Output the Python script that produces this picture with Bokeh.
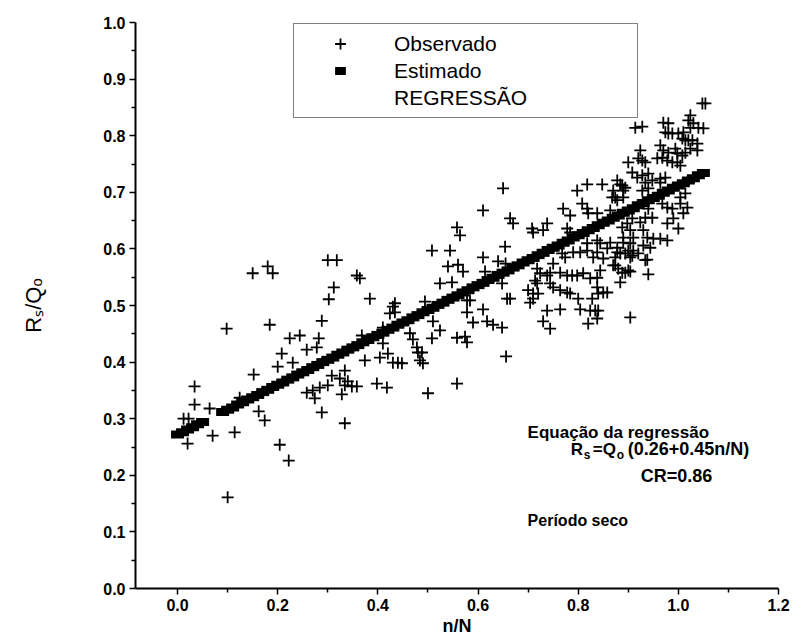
import math
from bokeh.plotting import figure
from bokeh.models import (FixedTicker, PrintfTickFormatter, Label, Legend,
                          LegendItem, Range1d)
from bokeh.embed import file_html
from bokeh.resources import INLINE

# ---------------- data ----------------
x_ticks = [0.0, 0.2, 0.4, 0.6, 0.8, 1.0, 1.2]
x_minor = [0.1, 0.3, 0.5, 0.7, 0.9, 1.1]
y_ticks = [0.0, 0.1, 0.2, 0.3, 0.4, 0.5, 0.6, 0.7, 0.8, 0.9, 1.0]
y_minor = [0.05, 0.15, 0.25, 0.35, 0.45, 0.55, 0.65, 0.75, 0.85, 0.95]

obs_x = [
    0.15, 0.18, 0.19, 0.30, 0.318, 0.312, 0.302, 0.098, 0.184, 0.288,
    0.224, 0.244, 0.282, 0.258, 0.278, 0.208, 0.23, 0.20, 0.152, 0.308,
    0.034, 0.258, 0.27, 0.284, 0.30, 0.274, 0.124, 0.034, 0.064, 0.022,
    0.012, 0.162, 0.174, 0.288, 0.114, 0.07, 0.02, 0.204, 0.222, 0.10,
    # middle
    0.508, 0.544, 0.61, 0.358, 0.364, 0.54, 0.56, 0.57, 0.614, 0.384,
    0.524, 0.548, 0.434, 0.43, 0.424, 0.434, 0.494, 0.578, 0.584, 0.61,
    0.578, 0.648, 0.658, 0.51, 0.524, 0.59, 0.618, 0.63, 0.648, 0.41,
    0.368, 0.464, 0.47, 0.478, 0.48, 0.488, 0.484, 0.49, 0.508, 0.558,
    0.574, 0.578, 0.41, 0.656, 0.42, 0.404, 0.374, 0.43, 0.44, 0.448,
    0.334, 0.324, 0.34, 0.334, 0.348, 0.358, 0.398, 0.418, 0.558, 0.50,
    0.328, 0.334, 0.558, 0.564, 0.61, 0.64, 0.655,
    # right-middle
    0.65, 0.798, 0.818, 0.848, 0.884, 0.894, 0.874, 0.90, 0.664, 0.67,
    0.708, 0.71, 0.738, 0.73, 0.77, 0.784, 0.808, 0.818, 0.82, 0.838,
    0.778, 0.784, 0.654, 0.818, 0.838, 0.844, 0.858, 0.79, 0.804, 0.818,
    0.768, 0.774, 0.838, 0.85, 0.83, 0.864, 0.878, 0.89, 0.90, 0.75,
    0.718, 0.724, 0.738, 0.744, 0.764, 0.778, 0.788, 0.798, 0.81, 0.844,
    0.838, 0.824, 0.874, 0.88, 0.888, 0.90, 0.714, 0.718, 0.744, 0.75,
    0.764, 0.778, 0.784, 0.80, 0.828, 0.838, 0.84, 0.85, 0.858, 0.70,
    0.71, 0.71, 0.704, 0.72, 0.664, 0.738, 0.764, 0.804, 0.824, 0.834,
    0.84, 0.73, 0.744, 0.838, 0.82, 0.904,
    # upper right
    1.048, 1.054, 1.024, 1.02, 1.03, 1.04, 1.024, 0.97, 0.98, 0.974,
    0.98, 0.988, 0.914, 0.928, 1.0, 1.008, 1.014, 1.02, 1.028, 1.038,
    1.038, 0.964, 0.97, 0.98, 0.994, 0.998, 1.008, 1.014, 1.024, 0.924,
    0.92, 0.928, 0.934, 0.958, 0.968, 0.978, 0.988, 0.998, 1.004, 0.908,
    0.918, 0.928, 0.94, 0.934, 0.948, 0.964, 0.974, 0.964, 0.888, 0.89,
    0.878, 0.89, 0.928, 0.94, 1.014, 1.004, 0.968, 0.978, 0.988, 0.99,
    1.0, 0.978, 0.94, 0.934, 0.924, 0.948, 0.908, 0.898, 0.888, 0.904,
    0.89, 0.91, 0.93, 0.938, 0.95, 0.964, 0.978, 0.944, 0.93, 0.904,
    0.91, 0.904, 0.884, 0.874, 0.868, 0.87, 0.878, 0.864, 0.878, 0.894,
    0.908, 0.92, 0.934, 0.938, 0.87, 0.894, 0.904, 0.884, 0.94, 1.01,
    1.018, 1.004, 1.01, 1.05,
]
obs_y = [
    0.557, 0.569, 0.557, 0.58, 0.58, 0.532, 0.511, 0.459, 0.466, 0.473,
    0.442, 0.447, 0.442, 0.422, 0.426, 0.415, 0.399, 0.392, 0.378, 0.376,
    0.357, 0.346, 0.35, 0.355, 0.359, 0.336, 0.337, 0.325, 0.318, 0.30,
    0.30, 0.313, 0.297, 0.311, 0.276, 0.27, 0.256, 0.254, 0.226, 0.161,
    # middle
    0.597, 0.597, 0.585, 0.553, 0.548, 0.569, 0.572, 0.56, 0.56, 0.512,
    0.539, 0.541, 0.504, 0.498, 0.486, 0.488, 0.507, 0.509, 0.509, 0.493,
    0.488, 0.539, 0.512, 0.472, 0.456, 0.47, 0.472, 0.466, 0.461, 0.461,
    0.447, 0.451, 0.44, 0.426, 0.417, 0.417, 0.403, 0.398, 0.442, 0.443,
    0.445, 0.435, 0.433, 0.41, 0.415, 0.408, 0.403, 0.399, 0.399, 0.398,
    0.385, 0.371, 0.366, 0.359, 0.357, 0.357, 0.362, 0.355, 0.362, 0.345,
    0.343, 0.292, 0.638, 0.624, 0.668, 0.578, 0.574,
    # right-middle
    0.707, 0.703, 0.714, 0.714, 0.714, 0.708, 0.691, 0.753, 0.654, 0.645,
    0.636, 0.629, 0.645, 0.633, 0.671, 0.659, 0.68, 0.671, 0.663, 0.663,
    0.636, 0.629, 0.604, 0.61, 0.615, 0.61, 0.601, 0.594, 0.594, 0.597,
    0.592, 0.585, 0.594, 0.583, 0.585, 0.611, 0.602, 0.611, 0.597, 0.574,
    0.565, 0.557, 0.553, 0.558, 0.558, 0.553, 0.553, 0.553, 0.557, 0.562,
    0.549, 0.548, 0.571, 0.565, 0.558, 0.562, 0.544, 0.539, 0.539, 0.532,
    0.527, 0.523, 0.521, 0.512, 0.512, 0.532, 0.521, 0.523, 0.523, 0.527,
    0.521, 0.512, 0.505, 0.521, 0.512, 0.491, 0.493, 0.493, 0.491, 0.491,
    0.491, 0.472, 0.459, 0.477, 0.468, 0.479,
    # upper right
    0.857, 0.857, 0.836, 0.827, 0.822, 0.814, 0.814, 0.823, 0.822, 0.806,
    0.804, 0.804, 0.814, 0.816, 0.804, 0.795, 0.792, 0.792, 0.792, 0.786,
    0.774, 0.783, 0.774, 0.77, 0.777, 0.769, 0.765, 0.77, 0.777, 0.774,
    0.76, 0.756, 0.753, 0.76, 0.761, 0.756, 0.753, 0.753, 0.747, 0.735,
    0.726, 0.73, 0.733, 0.717, 0.721, 0.724, 0.726, 0.717, 0.712, 0.703,
    0.686, 0.691, 0.703, 0.707, 0.698, 0.691, 0.68, 0.673, 0.671, 0.654,
    0.636, 0.645, 0.671, 0.655, 0.647, 0.655, 0.654, 0.645, 0.638, 0.633,
    0.62, 0.62, 0.633, 0.62, 0.618, 0.618, 0.615, 0.602, 0.606, 0.61,
    0.597, 0.585, 0.592, 0.585, 0.691, 0.703, 0.721, 0.668, 0.594, 0.592,
    0.588, 0.592, 0.58, 0.581, 0.571, 0.558, 0.56, 0.541, 0.555, 0.663,
    0.673, 0.68, 0.806, 0.813,
]

est_x = [
    0.00, 0.01, 0.02, 0.03, 0.04, 0.05,
    0.09, 0.10, 0.11, 0.12, 0.13, 0.14, 0.15, 0.16, 0.17, 0.18, 0.19,
    0.20, 0.21, 0.22, 0.23, 0.24, 0.25, 0.26, 0.27, 0.28, 0.29,
    0.30, 0.31, 0.32, 0.33, 0.34, 0.35, 0.36, 0.37, 0.38, 0.39,
    0.40, 0.41, 0.42, 0.43, 0.44, 0.45, 0.46, 0.47, 0.48, 0.49,
    0.50, 0.51, 0.52, 0.53, 0.54, 0.55, 0.56, 0.57, 0.58, 0.59,
    0.60, 0.61, 0.62, 0.63, 0.64, 0.65, 0.66, 0.67, 0.68, 0.69,
    0.70, 0.71, 0.72, 0.73, 0.74, 0.75, 0.76, 0.77, 0.78, 0.79,
    0.80, 0.81, 0.82, 0.83, 0.84, 0.85, 0.86, 0.87, 0.88, 0.89,
    0.90, 0.91, 0.92, 0.93, 0.94, 0.95, 0.96, 0.97, 0.98, 0.99,
    1.00, 1.01, 1.02, 1.03, 1.04, 1.05,
]
est_y = [
    0.272, 0.276, 0.281, 0.285, 0.290, 0.294,
    0.312, 0.316, 0.320, 0.325, 0.329, 0.334, 0.338, 0.342, 0.347, 0.351, 0.356,
    0.360, 0.364, 0.369, 0.373, 0.378, 0.382, 0.386, 0.391, 0.395, 0.400,
    0.404, 0.408, 0.413, 0.417, 0.422, 0.426, 0.430, 0.435, 0.439, 0.444,
    0.448, 0.452, 0.457, 0.461, 0.466, 0.470, 0.474, 0.479, 0.483, 0.488,
    0.492, 0.496, 0.501, 0.505, 0.510, 0.514, 0.518, 0.523, 0.527, 0.532,
    0.536, 0.540, 0.545, 0.549, 0.554, 0.558, 0.562, 0.567, 0.571, 0.576,
    0.580, 0.584, 0.589, 0.593, 0.598, 0.602, 0.606, 0.611, 0.615, 0.620,
    0.624, 0.628, 0.633, 0.637, 0.642, 0.646, 0.650, 0.655, 0.659, 0.664,
    0.668, 0.672, 0.677, 0.681, 0.686, 0.690, 0.694, 0.699, 0.703, 0.708,
    0.712, 0.716, 0.721, 0.725, 0.730, 0.734,
]

# ---------------- figure ----------------
FONT = "Liberation Sans"

p = figure(width=800, height=640, output_backend="svg", toolbar_location=None,
           x_range=Range1d(-0.084, 1.2), y_range=Range1d(0.0, 1.0),
           min_border_left=135, min_border_right=22, min_border_top=22,
           min_border_bottom=52)
p.outline_line_color = None
p.grid.visible = False
p.background_fill_color = "white"

p.xaxis.ticker = FixedTicker(ticks=x_ticks, minor_ticks=x_minor)
p.yaxis.ticker = FixedTicker(ticks=y_ticks, minor_ticks=y_minor)
for ax in (p.xaxis[0], p.yaxis[0]):
    ax.formatter = PrintfTickFormatter(format="%.1f")
    ax.axis_line_color = "black"
    ax.axis_line_width = 2
    ax.major_tick_in = 0
    ax.major_tick_out = 6
    ax.minor_tick_in = 0
    ax.minor_tick_out = 4
    ax.major_tick_line_color = "black"
    ax.minor_tick_line_color = "black"
    ax.major_tick_line_width = 1.5
    ax.minor_tick_line_width = 1.5
    ax.major_label_text_font = FONT
    ax.major_label_text_font_size = "16px"
    ax.major_label_text_font_style = "bold"
    ax.major_label_text_color = "black"
    ax.major_label_standoff = 4
    ax.axis_label_text_color = "black"
    ax.axis_label_text_font = FONT

p.xaxis.axis_label = "n/N"
p.xaxis.axis_label_text_font_size = "18px"
p.xaxis.axis_label_text_font_style = "bold"
p.xaxis.axis_label_standoff = 2

p.yaxis.axis_label = "R\u209b/Q\u2092"
p.yaxis.axis_label_text_font_size = "22px"
p.yaxis.axis_label_text_font_style = "normal"
p.yaxis.axis_label_standoff = 54

r_obs = p.scatter(obs_x, obs_y, marker="cross", size=12,
                  line_color="black", line_width=1.8)
r_est = p.scatter(est_x, est_y, marker="dash", size=13,
                  line_color="black", line_width=8)
r_reg = p.scatter(x=[], y=[], marker="dash", size=1,
                  line_alpha=0, fill_alpha=0)

legend = Legend(items=[
    LegendItem(label="Observado", renderers=[r_obs]),
    LegendItem(label="Estimado", renderers=[r_est]),
    LegendItem(label="REGRESSÃO", renderers=[r_reg]),
], location=(158, 470))
legend.margin = 0
legend.padding = 6
legend.spacing = 0
legend.glyph_width = 80
legend.glyph_height = 27
legend.label_height = 27
legend.label_width = 237
legend.label_standoff = 14
legend.label_text_font = FONT
legend.label_text_font_size = "21px"
legend.label_text_color = "black"
legend.border_line_color = "black"
legend.border_line_width = 1.5
legend.background_fill_color = "white"
legend.background_fill_alpha = 1.0
p.add_layout(legend)


def lab(x, y, text, size, style="bold"):
    p.add_layout(Label(x=x, y=y, text=text, text_font=FONT,
                       text_font_size=size, text_font_style=style,
                       text_color="black", text_baseline="middle",
                       text_align="left"))


# annotation block
lab(0.699, 0.276, "Equação da regressão", "17px")
lab(0.785, 0.2456, "R", "17px")
lab(0.811, 0.235, "s", "12px")
lab(0.829, 0.2456, "=Q", "17px")
lab(0.877, 0.235, "o", "12px")
lab(0.899, 0.2456, "(0.26+0.45n/N)", "18px")
lab(0.925, 0.198, "CR=0.86", "18px")
lab(0.699, 0.120, "Período seco", "16px")

open("out.html", "w").write(file_html(p, INLINE))
